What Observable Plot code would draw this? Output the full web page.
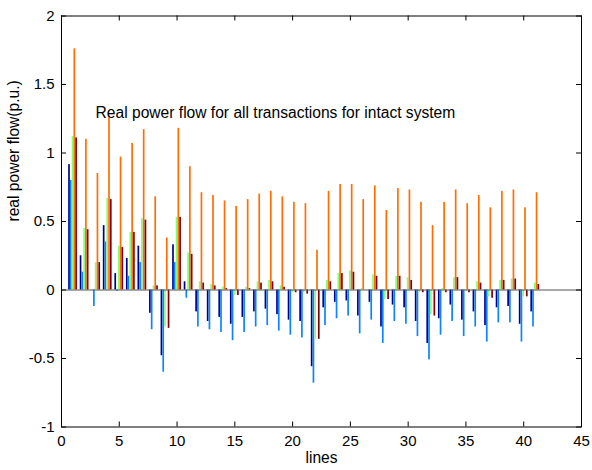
<!DOCTYPE html>
<html>
<head>
<meta charset="utf-8">
<script src="https://cdn.jsdelivr.net/npm/d3@7"></script>
<script src="https://cdn.jsdelivr.net/npm/@observablehq/plot@0.6"></script>
<style>
  html, body { margin: 0; padding: 0; background: #fff; }
</style>
</head>
<body>
<div id="chart"></div>
<script>
// ---- data ----
const lines = [1,2,3,4,5,6,7,8,9,10,11,12,13,14,15,16,17,18,19,20,21,22,23,24,25,26,27,28,29,30,31,32,33,34,35,36,37,38,39,40,41];
const series = ["s1", "s2", "s3", "s4", "s5"];
const colors = ["#00008f", "#0a84ff", "#86ff78", "#ff6e00", "#800000"];

const s1 = [0.915,0.25,0.0,0.47,0.12,0.23,0.32,-0.17,-0.48,0.33,0.06,-0.16,-0.23,-0.20,-0.25,-0.20,-0.16,-0.14,-0.18,-0.22,-0.23,-0.56,-0.13,-0.09,-0.08,-0.19,-0.09,-0.27,-0.11,-0.13,-0.23,-0.39,-0.21,-0.11,-0.22,-0.16,-0.26,-0.13,-0.12,-0.25,-0.16];
const s2 = [0.80,0.13,-0.12,0.35,-0.01,0.10,0.20,-0.29,-0.60,0.20,-0.06,-0.27,-0.29,-0.31,-0.37,-0.31,-0.27,-0.26,-0.30,-0.33,-0.35,-0.68,-0.26,-0.21,-0.19,-0.32,-0.22,-0.39,-0.23,-0.25,-0.34,-0.51,-0.33,-0.23,-0.34,-0.27,-0.38,-0.24,-0.24,-0.38,-0.27];
const s3 = [1.12,0.45,0.20,0.67,0.32,0.42,0.52,0.03,-0.27,0.53,0.27,0.06,0.04,0.02,-0.04,0.02,0.06,0.07,0.03,-0.02,-0.02,-0.36,0.07,0.12,0.14,0.01,0.11,-0.07,0.10,0.09,-0.02,-0.18,0.01,0.09,-0.01,0.06,-0.05,0.07,0.08,-0.05,0.05];
const s4 = [1.76,1.10,0.85,1.27,0.97,1.07,1.17,0.68,0.38,1.18,0.90,0.71,0.69,0.65,0.61,0.66,0.70,0.72,0.68,0.64,0.63,0.29,0.72,0.77,0.77,0.66,0.76,0.58,0.74,0.73,0.64,0.47,0.64,0.73,0.63,0.69,0.60,0.72,0.73,0.60,0.71];
const s5 = [1.11,0.44,0.20,0.66,0.31,0.42,0.51,0.03,-0.28,0.53,0.26,0.05,0.03,0.01,-0.04,0.01,0.05,0.06,0.02,-0.02,-0.03,-0.36,0.06,0.12,0.13,0.00,0.10,-0.07,0.10,0.07,-0.02,-0.19,-0.02,0.09,-0.02,0.05,-0.06,0.07,0.08,-0.05,0.04];

const xTicks = [0,5,10,15,20,25,30,35,40,45];
const xTickLabels = ["0","5","10","15","20","25","30","35","40","45"];
const yTicks = [-1,-0.5,0,0.5,1,1.5,2];
const yTickLabels = ["-1","-0.5","0","0.5","1","1.5","2"];

const titleText = "Real power flow for all transactions for intact system";
const xLabel = "lines";
const yLabel = "real power flow(p.u.)";

// ---- build table ----
const seriesValues = [s1, s2, s3, s4, s5];
const data = [];
seriesValues.forEach((vals, j) => vals.forEach((v, i) => data.push({line: lines[i], series: series[j], j, value: v})));

const groupWidth = 0.77;
const slot = groupWidth / series.length;
const barW = slot * 0.95;

const W = 592, H = 470;
const mL = 61, mR = 11, mT = 15.5, mB = 43.5;
const innerW = W - mL - mR, innerH = H - mT - mB;
const tickLen = 5;

const chart = Plot.plot({
  width: W,
  height: H,
  marginLeft: mL,
  marginRight: mR,
  marginTop: mT,
  marginBottom: mB,
  style: {fontFamily: "'Liberation Sans', Arial, Helvetica, sans-serif", fontSize: "15px", background: "white", color: "black"},
  x: {domain: [0, 45], label: null},
  y: {domain: [-1, 2], label: null},
  color: {domain: series, range: colors},
  marks: [
    Plot.rect(data, {
      x1: d => d.line - groupWidth / 2 + d.j * slot + (slot - barW) / 2,
      x2: d => d.line - groupWidth / 2 + d.j * slot + (slot - barW) / 2 + barW,
      y1: d => 0,
      y2: "value",
      fill: "series"
    }),
    Plot.ruleY([0], {stroke: "#555", strokeWidth: 1}),
    Plot.frame({stroke: "black", strokeWidth: 1}),
    // inward ticks (bottom/top/left/right)
    Plot.ruleX(xTicks, {x: d => d, stroke: "black", insetTop: innerH - tickLen}),
    Plot.ruleX(xTicks, {x: d => d, stroke: "black", insetBottom: innerH - tickLen}),
    Plot.ruleY(yTicks, {y: d => d, stroke: "black", insetRight: innerW - tickLen}),
    Plot.ruleY(yTicks, {y: d => d, stroke: "black", insetLeft: innerW - tickLen}),
    Plot.axisX(xTicks, {tickSize: 0, tickPadding: 8, fontSize: 15, tickFormat: d => xTickLabels[xTicks.indexOf(d)], label: null}),
    Plot.axisY(yTicks, {tickSize: 0, tickPadding: 7, fontSize: 15, tickFormat: d => yTickLabels[yTicks.indexOf(d)], label: null}),
    Plot.text([titleText], {x: d => 2.95, y: d => 1.292, text: d => d, textAnchor: "start", fontSize: 15.6, fill: "black"}),
    Plot.text([xLabel], {frameAnchor: "bottom", text: d => d, dy: 35.5, fontSize: 15.6, fill: "black"}),
    Plot.text([yLabel], {frameAnchor: "left", text: d => d, dx: -47.5, rotate: -90, fontSize: 15.6, fill: "black"})
  ]
});
document.getElementById("chart").appendChild(chart);
</script>
</body>
</html>
